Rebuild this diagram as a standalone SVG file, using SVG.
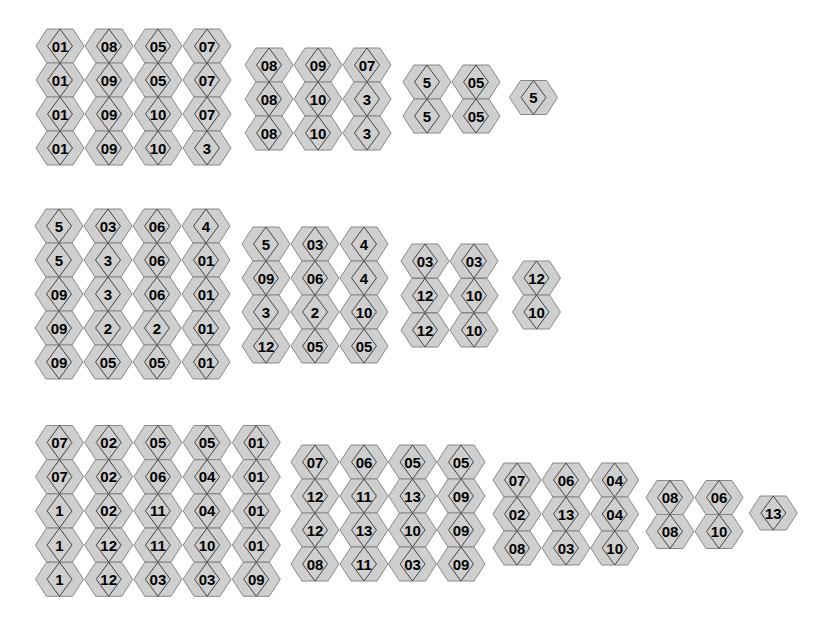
<svg xmlns="http://www.w3.org/2000/svg" xmlns:xlink="http://www.w3.org/1999/xlink" width="833" height="625" viewBox="0 0 833 625">
<style>
.hx{fill:#cfcfcf;stroke:#888888;stroke-width:1}
.dm{fill:none;stroke:#444444;stroke-width:1}
text{font-family:"Liberation Sans",Arial,sans-serif;font-weight:bold;font-size:15px;fill:#000;text-anchor:middle}
</style>
<defs>
<g id="hs">
<polygon class="hx" points="-24,0 -13,-17 13,-17 24,0 13,17 -13,17"/>
<polygon class="dm" points="0,-17 12.5,0 0,17 -12.5,0"/>
</g>
</defs>
<rect width="833" height="625" fill="#ffffff"/>
<g id="group1">
<g id="n1a11" transform="translate(60,46)"><use href="#hs"/><text y="5.5">01</text></g>
<g id="n1a12" transform="translate(109,46)"><use href="#hs"/><text y="5.5">08</text></g>
<g id="n1a13" transform="translate(158,46)"><use href="#hs"/><text y="5.5">05</text></g>
<g id="n1a14" transform="translate(207,46)"><use href="#hs"/><text y="5.5">07</text></g>
<g id="n1a21" transform="translate(60,80)"><use href="#hs"/><text y="5.5">01</text></g>
<g id="n1a22" transform="translate(109,80)"><use href="#hs"/><text y="5.5">09</text></g>
<g id="n1a23" transform="translate(158,80)"><use href="#hs"/><text y="5.5">05</text></g>
<g id="n1a24" transform="translate(207,80)"><use href="#hs"/><text y="5.5">07</text></g>
<g id="n1a31" transform="translate(60,114)"><use href="#hs"/><text y="5.5">01</text></g>
<g id="n1a32" transform="translate(109,114)"><use href="#hs"/><text y="5.5">09</text></g>
<g id="n1a33" transform="translate(158,114)"><use href="#hs"/><text y="5.5">10</text></g>
<g id="n1a34" transform="translate(207,114)"><use href="#hs"/><text y="5.5">07</text></g>
<g id="n1a41" transform="translate(60,148)"><use href="#hs"/><text y="5.5">01</text></g>
<g id="n1a42" transform="translate(109,148)"><use href="#hs"/><text y="5.5">09</text></g>
<g id="n1a43" transform="translate(158,148)"><use href="#hs"/><text y="5.5">10</text></g>
<g id="n1a44" transform="translate(207,148)"><use href="#hs"/><text y="5.5">3</text></g>
<g id="n1b11" transform="translate(269,65)"><use href="#hs"/><text y="5.5">08</text></g>
<g id="n1b12" transform="translate(318,65)"><use href="#hs"/><text y="5.5">09</text></g>
<g id="n1b13" transform="translate(367,65)"><use href="#hs"/><text y="5.5">07</text></g>
<g id="n1b21" transform="translate(269,99)"><use href="#hs"/><text y="5.5">08</text></g>
<g id="n1b22" transform="translate(318,99)"><use href="#hs"/><text y="5.5">10</text></g>
<g id="n1b23" transform="translate(367,99)"><use href="#hs"/><text y="5.5">3</text></g>
<g id="n1b31" transform="translate(269,133)"><use href="#hs"/><text y="5.5">08</text></g>
<g id="n1b32" transform="translate(318,133)"><use href="#hs"/><text y="5.5">10</text></g>
<g id="n1b33" transform="translate(367,133)"><use href="#hs"/><text y="5.5">3</text></g>
<g id="n1c11" transform="translate(427,82)"><use href="#hs"/><text y="5.5">5</text></g>
<g id="n1c12" transform="translate(476,82)"><use href="#hs"/><text y="5.5">05</text></g>
<g id="n1c21" transform="translate(427,116)"><use href="#hs"/><text y="5.5">5</text></g>
<g id="n1c22" transform="translate(476,116)"><use href="#hs"/><text y="5.5">05</text></g>
<g id="n1d11" transform="translate(533.5,97.5)"><use href="#hs"/><text y="5.5">5</text></g>
</g>
<g id="group2">
<g id="n2a11" transform="translate(59,226)"><use href="#hs"/><text y="5.5">5</text></g>
<g id="n2a12" transform="translate(108,226)"><use href="#hs"/><text y="5.5">03</text></g>
<g id="n2a13" transform="translate(157,226)"><use href="#hs"/><text y="5.5">06</text></g>
<g id="n2a14" transform="translate(206,226)"><use href="#hs"/><text y="5.5">4</text></g>
<g id="n2a21" transform="translate(59,260)"><use href="#hs"/><text y="5.5">5</text></g>
<g id="n2a22" transform="translate(108,260)"><use href="#hs"/><text y="5.5">3</text></g>
<g id="n2a23" transform="translate(157,260)"><use href="#hs"/><text y="5.5">06</text></g>
<g id="n2a24" transform="translate(206,260)"><use href="#hs"/><text y="5.5">01</text></g>
<g id="n2a31" transform="translate(59,294)"><use href="#hs"/><text y="5.5">09</text></g>
<g id="n2a32" transform="translate(108,294)"><use href="#hs"/><text y="5.5">3</text></g>
<g id="n2a33" transform="translate(157,294)"><use href="#hs"/><text y="5.5">06</text></g>
<g id="n2a34" transform="translate(206,294)"><use href="#hs"/><text y="5.5">01</text></g>
<g id="n2a41" transform="translate(59,328)"><use href="#hs"/><text y="5.5">09</text></g>
<g id="n2a42" transform="translate(108,328)"><use href="#hs"/><text y="5.5">2</text></g>
<g id="n2a43" transform="translate(157,328)"><use href="#hs"/><text y="5.5">2</text></g>
<g id="n2a44" transform="translate(206,328)"><use href="#hs"/><text y="5.5">01</text></g>
<g id="n2a51" transform="translate(59,362)"><use href="#hs"/><text y="5.5">09</text></g>
<g id="n2a52" transform="translate(108,362)"><use href="#hs"/><text y="5.5">05</text></g>
<g id="n2a53" transform="translate(157,362)"><use href="#hs"/><text y="5.5">05</text></g>
<g id="n2a54" transform="translate(206,362)"><use href="#hs"/><text y="5.5">01</text></g>
<g id="n2b11" transform="translate(266,244)"><use href="#hs"/><text y="5.5">5</text></g>
<g id="n2b12" transform="translate(315,244)"><use href="#hs"/><text y="5.5">03</text></g>
<g id="n2b13" transform="translate(364,244)"><use href="#hs"/><text y="5.5">4</text></g>
<g id="n2b21" transform="translate(266,278)"><use href="#hs"/><text y="5.5">09</text></g>
<g id="n2b22" transform="translate(315,278)"><use href="#hs"/><text y="5.5">06</text></g>
<g id="n2b23" transform="translate(364,278)"><use href="#hs"/><text y="5.5">4</text></g>
<g id="n2b31" transform="translate(266,312)"><use href="#hs"/><text y="5.5">3</text></g>
<g id="n2b32" transform="translate(315,312)"><use href="#hs"/><text y="5.5">2</text></g>
<g id="n2b33" transform="translate(364,312)"><use href="#hs"/><text y="5.5">10</text></g>
<g id="n2b41" transform="translate(266,346)"><use href="#hs"/><text y="5.5">12</text></g>
<g id="n2b42" transform="translate(315,346)"><use href="#hs"/><text y="5.5">05</text></g>
<g id="n2b43" transform="translate(364,346)"><use href="#hs"/><text y="5.5">05</text></g>
<g id="n2c11" transform="translate(425,261)"><use href="#hs"/><text y="5.5">03</text></g>
<g id="n2c12" transform="translate(474,261)"><use href="#hs"/><text y="5.5">03</text></g>
<g id="n2c21" transform="translate(425,295.5)"><use href="#hs"/><text y="5.5">12</text></g>
<g id="n2c22" transform="translate(474,295.5)"><use href="#hs"/><text y="5.5">10</text></g>
<g id="n2c31" transform="translate(425,330)"><use href="#hs"/><text y="5.5">12</text></g>
<g id="n2c32" transform="translate(474,330)"><use href="#hs"/><text y="5.5">10</text></g>
<g id="n2d11" transform="translate(536.5,278)"><use href="#hs"/><text y="5.5">12</text></g>
<g id="n2d21" transform="translate(536.5,312)"><use href="#hs"/><text y="5.5">10</text></g>
</g>
<g id="group3">
<g id="n3a11" transform="translate(59.5,442.5)"><use href="#hs"/><text y="5.5">07</text></g>
<g id="n3a12" transform="translate(108.7,442.5)"><use href="#hs"/><text y="5.5">02</text></g>
<g id="n3a13" transform="translate(157.9,442.5)"><use href="#hs"/><text y="5.5">05</text></g>
<g id="n3a14" transform="translate(207.1,442.5)"><use href="#hs"/><text y="5.5">05</text></g>
<g id="n3a15" transform="translate(256.3,442.5)"><use href="#hs"/><text y="5.5">01</text></g>
<g id="n3a21" transform="translate(59.5,476.7)"><use href="#hs"/><text y="5.5">07</text></g>
<g id="n3a22" transform="translate(108.7,476.7)"><use href="#hs"/><text y="5.5">02</text></g>
<g id="n3a23" transform="translate(157.9,476.7)"><use href="#hs"/><text y="5.5">06</text></g>
<g id="n3a24" transform="translate(207.1,476.7)"><use href="#hs"/><text y="5.5">04</text></g>
<g id="n3a25" transform="translate(256.3,476.7)"><use href="#hs"/><text y="5.5">01</text></g>
<g id="n3a31" transform="translate(59.5,510.9)"><use href="#hs"/><text y="5.5">1</text></g>
<g id="n3a32" transform="translate(108.7,510.9)"><use href="#hs"/><text y="5.5">02</text></g>
<g id="n3a33" transform="translate(157.9,510.9)"><use href="#hs"/><text y="5.5">11</text></g>
<g id="n3a34" transform="translate(207.1,510.9)"><use href="#hs"/><text y="5.5">04</text></g>
<g id="n3a35" transform="translate(256.3,510.9)"><use href="#hs"/><text y="5.5">01</text></g>
<g id="n3a41" transform="translate(59.5,545.1)"><use href="#hs"/><text y="5.5">1</text></g>
<g id="n3a42" transform="translate(108.7,545.1)"><use href="#hs"/><text y="5.5">12</text></g>
<g id="n3a43" transform="translate(157.9,545.1)"><use href="#hs"/><text y="5.5">11</text></g>
<g id="n3a44" transform="translate(207.1,545.1)"><use href="#hs"/><text y="5.5">10</text></g>
<g id="n3a45" transform="translate(256.3,545.1)"><use href="#hs"/><text y="5.5">01</text></g>
<g id="n3a51" transform="translate(59.5,579.3)"><use href="#hs"/><text y="5.5">1</text></g>
<g id="n3a52" transform="translate(108.7,579.3)"><use href="#hs"/><text y="5.5">12</text></g>
<g id="n3a53" transform="translate(157.9,579.3)"><use href="#hs"/><text y="5.5">03</text></g>
<g id="n3a54" transform="translate(207.1,579.3)"><use href="#hs"/><text y="5.5">03</text></g>
<g id="n3a55" transform="translate(256.3,579.3)"><use href="#hs"/><text y="5.5">09</text></g>
<g id="n3b11" transform="translate(315,462)"><use href="#hs"/><text y="5.5">07</text></g>
<g id="n3b12" transform="translate(364,462)"><use href="#hs"/><text y="5.5">06</text></g>
<g id="n3b13" transform="translate(412.5,462)"><use href="#hs"/><text y="5.5">05</text></g>
<g id="n3b14" transform="translate(461,462)"><use href="#hs"/><text y="5.5">05</text></g>
<g id="n3b21" transform="translate(315,496)"><use href="#hs"/><text y="5.5">12</text></g>
<g id="n3b22" transform="translate(364,496)"><use href="#hs"/><text y="5.5">11</text></g>
<g id="n3b23" transform="translate(412.5,496)"><use href="#hs"/><text y="5.5">13</text></g>
<g id="n3b24" transform="translate(461,496)"><use href="#hs"/><text y="5.5">09</text></g>
<g id="n3b31" transform="translate(315,530)"><use href="#hs"/><text y="5.5">12</text></g>
<g id="n3b32" transform="translate(364,530)"><use href="#hs"/><text y="5.5">13</text></g>
<g id="n3b33" transform="translate(412.5,530)"><use href="#hs"/><text y="5.5">10</text></g>
<g id="n3b34" transform="translate(461,530)"><use href="#hs"/><text y="5.5">09</text></g>
<g id="n3b41" transform="translate(315,564)"><use href="#hs"/><text y="5.5">08</text></g>
<g id="n3b42" transform="translate(364,564)"><use href="#hs"/><text y="5.5">11</text></g>
<g id="n3b43" transform="translate(412.5,564)"><use href="#hs"/><text y="5.5">03</text></g>
<g id="n3b44" transform="translate(461,564)"><use href="#hs"/><text y="5.5">09</text></g>
<g id="n3c11" transform="translate(517,480)"><use href="#hs"/><text y="5.5">07</text></g>
<g id="n3c12" transform="translate(566,480)"><use href="#hs"/><text y="5.5">06</text></g>
<g id="n3c13" transform="translate(614.7,480)"><use href="#hs"/><text y="5.5">04</text></g>
<g id="n3c21" transform="translate(517,514)"><use href="#hs"/><text y="5.5">02</text></g>
<g id="n3c22" transform="translate(566,514)"><use href="#hs"/><text y="5.5">13</text></g>
<g id="n3c23" transform="translate(614.7,514)"><use href="#hs"/><text y="5.5">04</text></g>
<g id="n3c31" transform="translate(517,548)"><use href="#hs"/><text y="5.5">08</text></g>
<g id="n3c32" transform="translate(566,548)"><use href="#hs"/><text y="5.5">03</text></g>
<g id="n3c33" transform="translate(614.7,548)"><use href="#hs"/><text y="5.5">10</text></g>
<g id="n3d11" transform="translate(670,497.5)"><use href="#hs"/><text y="5.5">08</text></g>
<g id="n3d12" transform="translate(719,497.5)"><use href="#hs"/><text y="5.5">06</text></g>
<g id="n3d21" transform="translate(670,531.5)"><use href="#hs"/><text y="5.5">08</text></g>
<g id="n3d22" transform="translate(719,531.5)"><use href="#hs"/><text y="5.5">10</text></g>
<g id="n3e11" transform="translate(773.3,513)"><use href="#hs"/><text y="5.5">13</text></g>
</g>
</svg>
